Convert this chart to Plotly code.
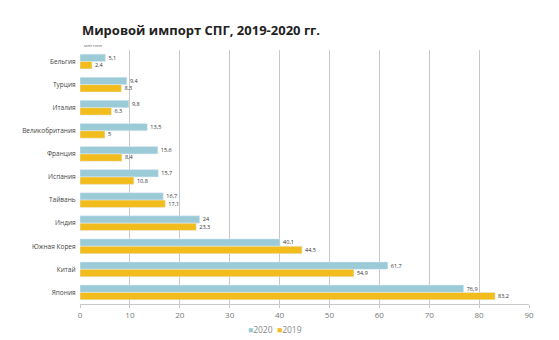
import plotly.graph_objects as go

countries = ["Бельгия", "Турция", "Италия", "Великобритания", "Франция", "Испания",
             "Тайвань", "Индия", "Южная Корея", "Китай", "Япония"]
v2020 = [5.1, 9.4, 9.8, 13.5, 15.6, 15.7, 16.7, 24, 40.1, 61.7, 76.9]
v2019 = [2.4, 8.3, 6.3, 5, 8.4, 10.8, 17.1, 23.3, 44.5, 54.9, 83.2]
x_ticks = [0, 10, 20, 30, 40, 50, 60, 70, 80, 90]
series_names = ["2020", "2019"]

def fmt(v):
    s = f"{v:g}"
    return s.replace(".", ",")

c2020 = "#9ccbd8"
c2019 = "#f2bd1c"

fig = go.Figure()
fig.add_trace(go.Bar(y=countries, x=v2020, orientation="h", name=series_names[0],
                     marker=dict(color=c2020), text=[fmt(v) for v in v2020],
                     textposition="outside", textfont=dict(size=6, color="#333"),
                     cliponaxis=False))
fig.add_trace(go.Bar(y=countries, x=v2019, orientation="h", name=series_names[1],
                     marker=dict(color=c2019), text=[fmt(v) for v in v2019],
                     textposition="outside", textfont=dict(size=6, color="#333"),
                     cliponaxis=False))

fig.update_layout(
    width=559, height=340,
    margin=dict(l=80, r=30, t=50, b=36, autoexpand=False),
    paper_bgcolor="white", plot_bgcolor="white",
    barmode="group", bargap=0.36, bargroupgap=0,
    font=dict(family="Open Sans", color="#555"),
    showlegend=False,
    xaxis=dict(range=[0, 90], tickvals=x_ticks, showgrid=True, gridcolor="#c8c8c8",
               gridwidth=1, zeroline=False, showline=True, linecolor="#c8c8c8",
               tickfont=dict(size=8, color="#777"), ticks="outside", ticklen=3,
               tickcolor="#c8c8c8"),
    yaxis=dict(autorange="reversed", showgrid=False, ticks="", showline=False,
               tickfont=dict(size=6.5, color="#444"), ticksuffix="  "),
)

legend_text = (f"<span style='color:{c2020}'>■</span>{series_names[0]}  "
               f"<span style='color:{c2019}'>■</span>{series_names[1]}")
fig.add_annotation(text=legend_text, xref="paper", yref="paper",
                   x=0.435, y=-0.1, xanchor="center", yanchor="middle", showarrow=False,
                   font=dict(size=8.5, color="#888"))

fig.add_annotation(text="<b>Мировой импорт СПГ, 2019-2020 гг.</b>", xref="paper", yref="paper",
                   x=0, y=1.08, xanchor="left", yanchor="middle", showarrow=False,
                   font=dict(size=13, color="#222", family="Open Sans"))
fig.add_annotation(text="млн тонн", xref="paper", yref="paper",
                   x=0.005, y=1.0, xanchor="left", yanchor="bottom", showarrow=False,
                   font=dict(size=4, color="#555"))

fig.write_html("out.html")
